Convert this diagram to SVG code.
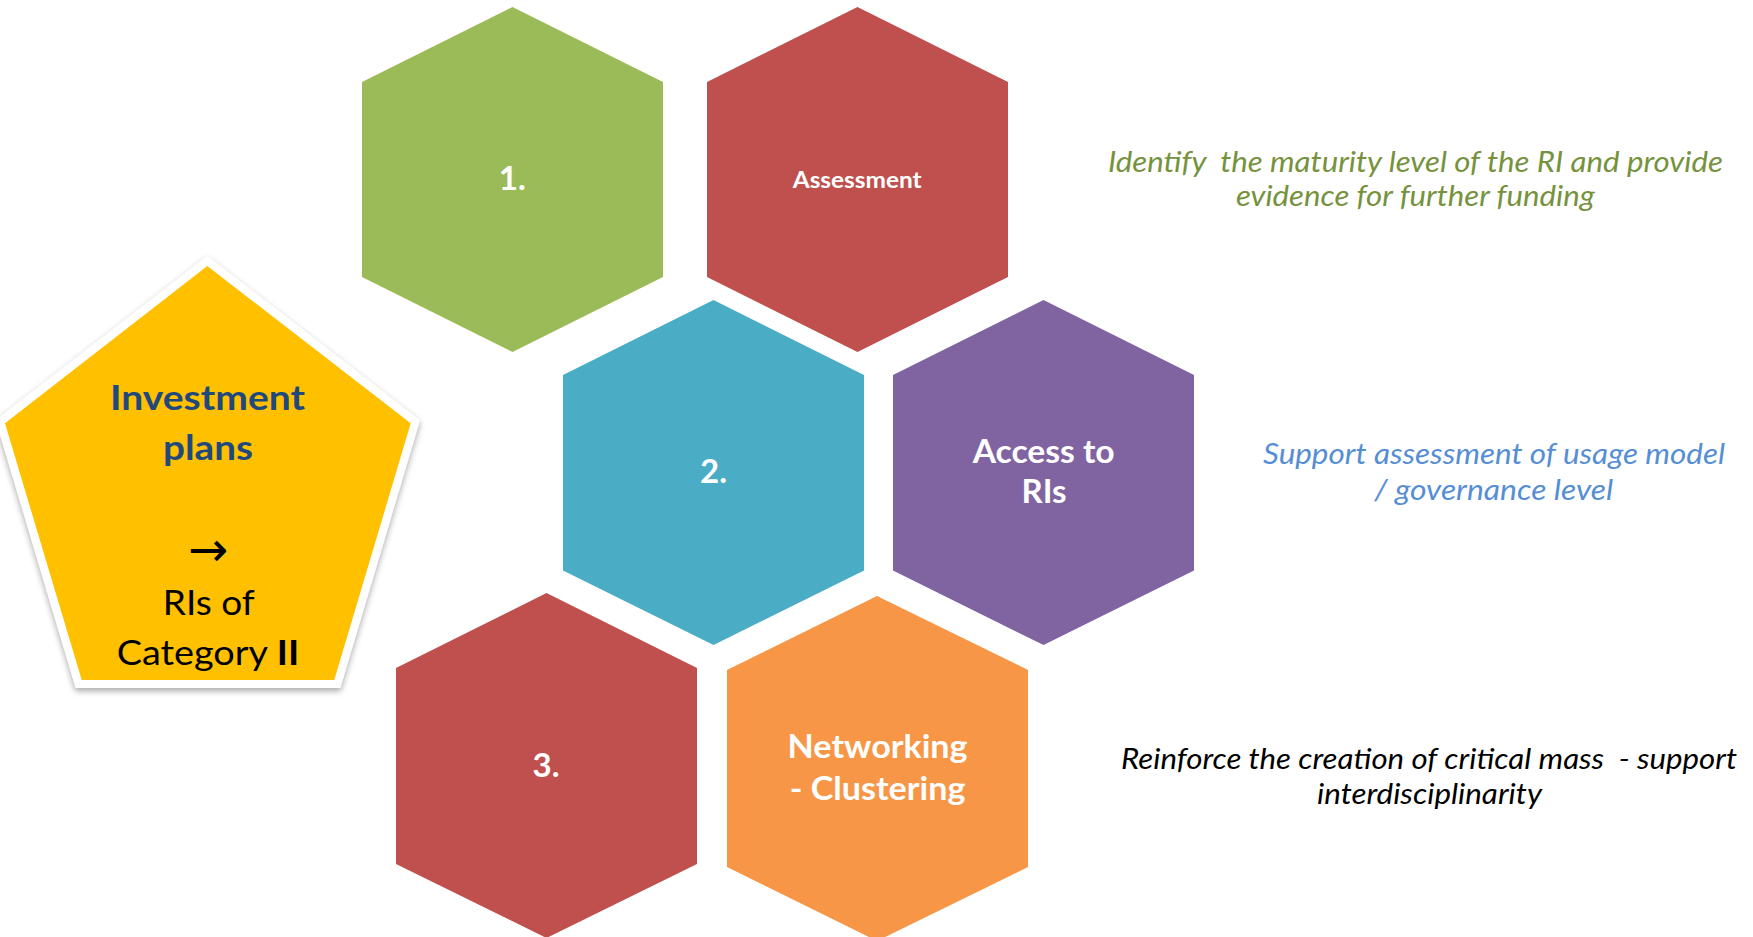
<svg xmlns="http://www.w3.org/2000/svg" width="1753" height="937" viewBox="0 0 1753 937">
<defs>
<filter id="shadow" x="-10%" y="-10%" width="120%" height="125%">
<feDropShadow dx="0" dy="3" stdDeviation="3" flood-color="#000" flood-opacity="0.35"/>
</filter>
</defs>
<style>
.hl{font-family:Lato,"Open Sans","Liberation Sans",sans-serif;font-weight:bold;fill:#fff;text-anchor:middle}
.num{font-size:33px}
.big{font-size:33px}
.note{font-family:Lato,"Open Sans","Liberation Sans",sans-serif;font-style:italic;font-size:28px;text-anchor:middle}
.pt{font-family:Lato,"Open Sans","Liberation Sans",sans-serif;text-anchor:middle;font-size:35px}
</style>
<rect width="1753" height="937" fill="#fff"/>
<g id="node-investment">
<polygon points="207.3,266 410.7,423.3 334.3,680 81.7,680 5,423.3" fill="#fff" stroke="#fff" stroke-width="16" stroke-linejoin="miter" filter="url(#shadow)"/>
<polygon points="207.3,266 410.7,423.3 334.3,680 81.7,680 5,423.3" fill="#FFC000"/>
<text class="pt" x="207.5" y="410" font-weight="bold" fill="#1F497D" font-size="38" textLength="195" lengthAdjust="spacingAndGlyphs">Investment</text>
<text class="pt" x="208" y="460" font-weight="bold" fill="#1F497D" font-size="38" textLength="90" lengthAdjust="spacingAndGlyphs">plans</text>
<text x="208" y="565.5" font-family="'DejaVu Sans',sans-serif" font-size="48" text-anchor="middle" fill="#000">→</text>
<text class="pt" x="208.8" y="615" fill="#000" textLength="92" lengthAdjust="spacingAndGlyphs">RIs of</text>
<text class="pt" x="208" y="665" fill="#000" textLength="182.6" lengthAdjust="spacingAndGlyphs">Category <tspan font-weight="bold">II</tspan></text>
</g>
<g id="node-1">
<polygon points="512.5,7 663,82 663,277 512.5,352 362,277 362,82" fill="#9BBB59"/>
<text class="hl num" x="512.3" y="190">1.</text>
</g>
<g id="node-assessment">
<polygon points="857.5,7 1008,82 1008,277 857.5,352 707,277 707,82" fill="#C0504D"/>
<text class="hl" x="857.2" y="188.3" font-size="22" textLength="129" lengthAdjust="spacingAndGlyphs">Assessment</text>
</g>
<g id="node-2">
<polygon points="713.5,300 864,375 864,570.5 713.5,645 563,570.5 563,375" fill="#4BACC6"/>
<text class="hl num" x="713.5" y="483">2.</text>
</g>
<g id="node-access">
<polygon points="1043.5,300 1194,375 1194,570.5 1043.5,645 893,570.5 893,375" fill="#8064A2"/>
<text class="hl big" x="1043.7" y="462.7" textLength="142" lengthAdjust="spacingAndGlyphs">Access to</text>
<text class="hl big" x="1044" y="503">RIs</text>
</g>
<g id="node-3">
<polygon points="546.5,593 697,668 697,864 546.5,938 396,864 396,668" fill="#C0504D"/>
<text class="hl num" x="546" y="776.7">3.</text>
</g>
<g id="node-networking">
<polygon points="877,596 1028,670 1028,867 877,941 727,867 727,670" fill="#F79646"/>
<text class="hl big" x="877.6" y="758" textLength="180" lengthAdjust="spacingAndGlyphs">Networking</text>
<text class="hl big" x="877.6" y="800" textLength="175.6" lengthAdjust="spacingAndGlyphs">- Clustering</text>
</g>
<g id="connectors"></g>
<g id="notes">
<text class="note" fill="#76923C" x="1415.4" y="171.8" xml:space="preserve" textLength="615" lengthAdjust="spacingAndGlyphs">Identify  the maturity level of the RI and provide</text>
<text class="note" fill="#76923C" x="1415.4" y="206.2" textLength="359" lengthAdjust="spacingAndGlyphs">evidence for further funding</text>
<text class="note" fill="#558ED5" x="1494" y="464.4" textLength="462" lengthAdjust="spacingAndGlyphs">Support assessment of usage model</text>
<text class="note" fill="#558ED5" x="1493.7" y="500.1" textLength="239" lengthAdjust="spacingAndGlyphs">/ governance level</text>
<text class="note" fill="#000" x="1429" y="768.8" xml:space="preserve" textLength="616" lengthAdjust="spacingAndGlyphs">Reinforce the creation of critical mass  - support</text>
<text class="note" fill="#000" x="1429.5" y="804.4" textLength="225" lengthAdjust="spacingAndGlyphs">interdisciplinarity</text>
</g>
</svg>
